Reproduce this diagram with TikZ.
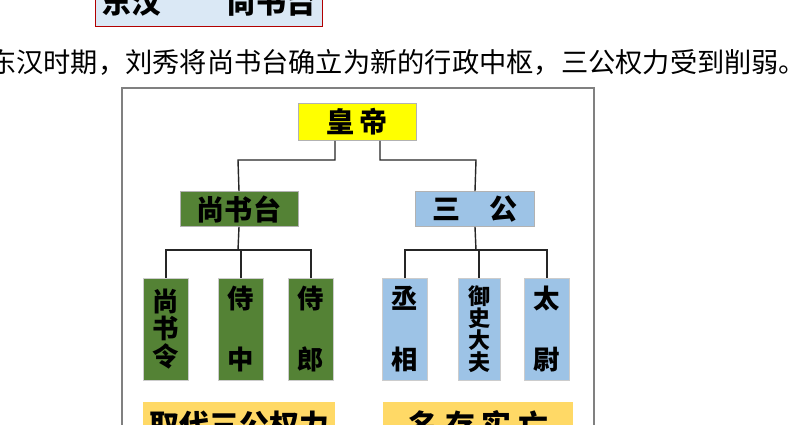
\documentclass[tikz,border=0pt]{standalone}
\usepackage{fontspec}
\usepackage{xcolor}
\setmainfont{Noto Sans CJK SC}
\newfontfamily\cjk{Noto Sans CJK SC}
\usetikzlibrary{positioning}
\definecolor{hdyellow}{RGB}{255,255,0}
\definecolor{sgreen}{RGB}{84,130,53}
\definecolor{sblue}{RGB}{157,195,230}
\definecolor{lyellow}{RGB}{255,217,102}
\definecolor{tboxblue}{RGB}{218,232,245}
\tikzset{
  office/.style={draw=gray!60,minimum height=0.7cm,inner sep=1pt,font=\cjk\bfseries\fontsize{16}{16}\selectfont},
  column/.style={draw=gray!40,minimum width=0.9cm,minimum height=2.04cm,inner sep=0pt,align=center,font=\cjk\bfseries\fontsize{15}{17}\selectfont},
  link/.style={thick,black!85}
}
\begin{document}
\begin{tikzpicture}[x=0.02cm,y=-0.02cm]
  \useasboundingbox (0,0) rectangle (799,425);
  \begin{scope}
    \clip (0,0) rectangle (799,425);

    % heading box, cut at the top
    \node[draw=red!70!black,thick,fill=tboxblue,minimum width=4.14cm,minimum height=1cm,
      font=\cjk\bfseries\fontsize{17}{17}\selectfont,anchor=south west] (era) at (95,27)
      {东汉\hspace{2.2em}尚书台};
    \node[font=\cjk\fontsize{15.5}{15.5}\selectfont,anchor=west] (intro) at (-17,62)
      {东汉时期，刘秀将尚书台确立为新的行政中枢，三公权力受到削弱。};

    % frame
    \draw[gray,thick,fill=white] (122,88) rectangle (594,440);

    % top level
    \node[office,fill=hdyellow,minimum width=2.36cm,minimum height=0.74cm] (emperor) at (357,122) {皇\,帝};
    \node[office,fill=sgreen,minimum width=2.36cm] (shangshu) at (239,209) {尚书台};
    \node[office,fill=sblue,minimum width=2.38cm] (sangong) at (475,209) {三\quad 公};

    \draw[link] (emperor.south -| 335,0) |- (238,160) -- (shangshu.north);
    \draw[link] (emperor.south -| 380,0) |- (476,160) -- (sangong.north);

    % columns
    \node[column,fill=sgreen,font=\cjk\bfseries\fontsize{15}{15.5}\selectfont] (ling) at (166,329) {尚\\书\\令};
    \node[column,fill=sgreen] (zhong) at (241,329) {侍\\[1.2em]中};
    \node[column,fill=sgreen] (lang) at (311,329) {侍\\[1.2em]郎};
    \node[column,fill=sblue] (xiang) at (405,329) {丞\\[1.2em]相};
    \node[column,fill=sblue,font=\cjk\bfseries\fontsize{12.5}{12.5}\selectfont,minimum width=0.84cm] (yushi) at (479,329) {御\\史\\大\\夫};
    \node[column,fill=sblue] (taiwei) at (547,329) {太\\[1.2em]尉};

    \draw[link] (shangshu.south) -- (238,250);
    \draw[link] (ling.north) |- (238,250) -| (lang.north);
    \draw[link] (zhong.north) -- (zhong.north |- 0,250);
    \draw[link] (sangong.south) -- (476,250);
    \draw[link] (xiang.north) |- (476,250) -| (taiwei.north);
    \draw[link] (yushi.north) -- (yushi.north |- 0,250);

    % results, cut at the bottom
    \node[fill=lyellow,minimum width=3.84cm,minimum height=0.9cm,anchor=north west,
      font=\cjk\bfseries\fontsize{17}{17}\selectfont] (replace) at (143,402) {取代三公权力};
    \node[fill=lyellow,minimum width=3.8cm,minimum height=0.9cm,anchor=north west,
      font=\cjk\bfseries\fontsize{17}{17}\selectfont] (nominal) at (383,402) {名\ 存\ 实\ 亡};
  \end{scope}
\end{tikzpicture}
\end{document}
